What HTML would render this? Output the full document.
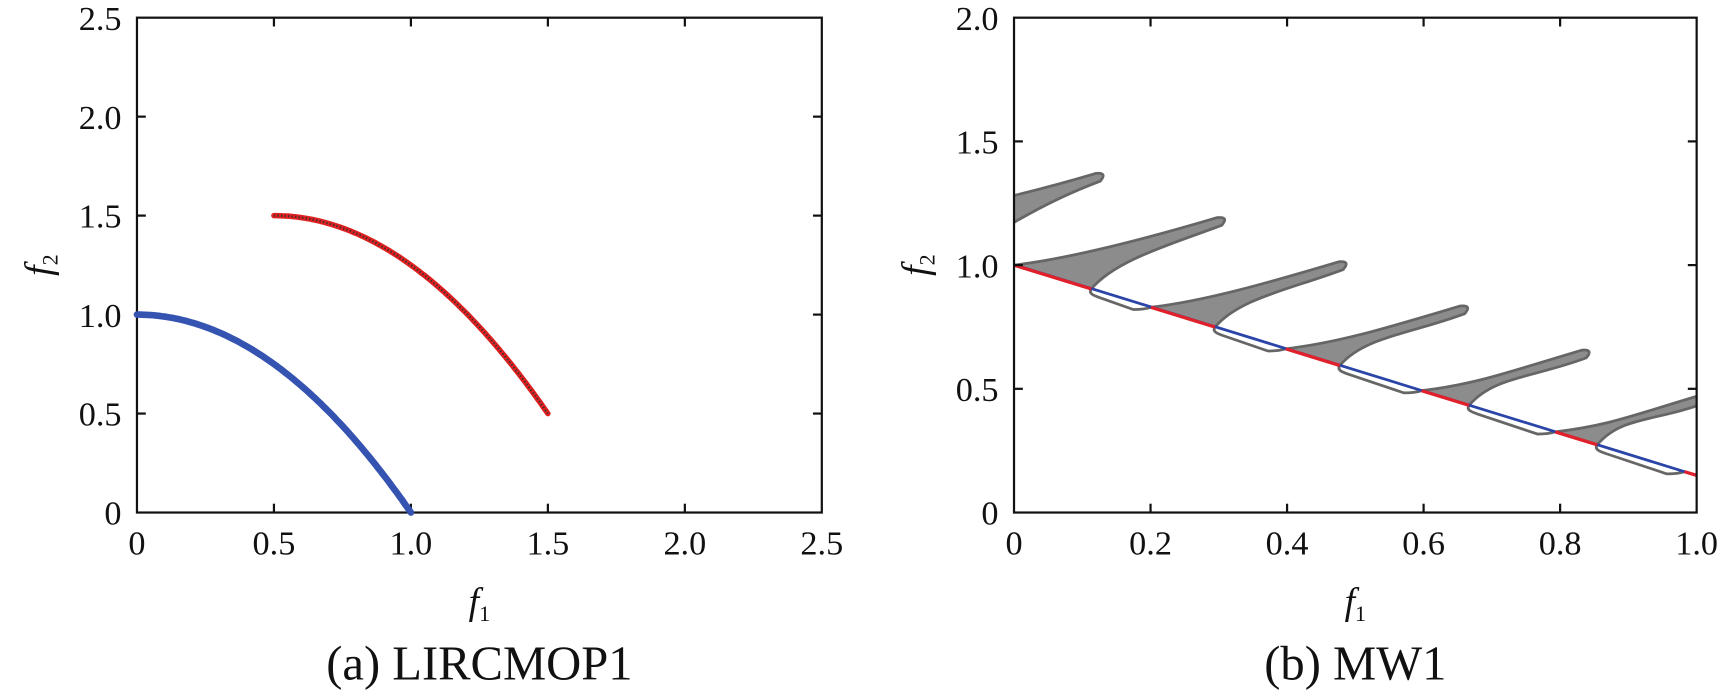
<!DOCTYPE html>
<html><head><meta charset="utf-8"><style>
html,body{margin:0;padding:0;background:#fff;overflow:hidden;}
svg{display:block;}
text{font-family:"Liberation Serif",serif;fill:#111;}
</style></head><body>
<svg width="1732" height="697" viewBox="0 0 1568 631" xmlns="http://www.w3.org/2000/svg">
<defs><clipPath id="cp"><rect x="918" y="16" width="618" height="448"/></clipPath></defs>
<g id="left">
<rect x="124" y="16" width="620" height="448" fill="none" stroke="#111" stroke-width="2"/>
<g stroke="#111" stroke-width="2">
<line x1="248" y1="464" x2="248" y2="456"/><line x1="372" y1="464" x2="372" y2="456"/><line x1="496" y1="464" x2="496" y2="456"/><line x1="620" y1="464" x2="620" y2="456"/>
<line x1="248" y1="16" x2="248" y2="24"/><line x1="372" y1="16" x2="372" y2="24"/><line x1="496" y1="16" x2="496" y2="24"/><line x1="620" y1="16" x2="620" y2="24"/>
<line x1="124" y1="374.4" x2="132" y2="374.4"/><line x1="124" y1="284.8" x2="132" y2="284.8"/><line x1="124" y1="195.2" x2="132" y2="195.2"/><line x1="124" y1="105.6" x2="132" y2="105.6"/>
<line x1="744" y1="374.4" x2="736" y2="374.4"/><line x1="744" y1="284.8" x2="736" y2="284.8"/><line x1="744" y1="195.2" x2="736" y2="195.2"/><line x1="744" y1="105.6" x2="736" y2="105.6"/>
</g>
<g font-size="31" text-anchor="middle">
<text x="124" y="502">0</text><text x="248" y="502">0.5</text><text x="372" y="502">1.0</text><text x="496" y="502">1.5</text><text x="620" y="502">2.0</text><text x="744" y="502">2.5</text>
</g>
<g font-size="31" text-anchor="end">
<text x="110" y="475">0</text><text x="110" y="385">0.5</text><text x="110" y="296">1.0</text><text x="110" y="206">1.5</text><text x="110" y="117">2.0</text><text x="110" y="27">2.5</text>
</g>
<text x="434" y="556" font-size="34" font-style="italic" text-anchor="middle">f<tspan font-size="20" dy="6" font-style="normal">1</tspan></text>
<text transform="translate(46,240) rotate(-90)" font-size="34" font-style="italic" text-anchor="middle">f<tspan font-size="20" dy="6" font-style="normal">2</tspan></text>
<text x="434" y="615" font-size="44" text-anchor="middle">(a) LIRCMOP1</text>
<path id="blue" fill="none" stroke="#3553b0" stroke-width="6" stroke-linecap="round"/>
<path id="red" fill="none" stroke="#e02020" stroke-width="5" stroke-linecap="round"/>
<path id="hatch" fill="none" stroke="#333" stroke-width="2" stroke-dasharray="1.2 2"/>
</g>
<g id="right">
<g clip-path="url(#cp)">
<path id="fins" fill="#8c8c8c" stroke="#666" stroke-width="2.5" stroke-linejoin="round"/>
<path id="loops" fill="none" stroke="#666" stroke-width="2.5"/>
<path d="M918,239.6 L1536,430.4" stroke="#2a44a8" stroke-width="2.5" fill="none"/>
<path id="reds" stroke="#e0202a" stroke-width="3" fill="none"/>
</g>
<rect x="918" y="16" width="618" height="448" fill="none" stroke="#111" stroke-width="2"/>
<g stroke="#111" stroke-width="2">
<line x1="1041.6" y1="464" x2="1041.6" y2="456"/><line x1="1165.2" y1="464" x2="1165.2" y2="456"/><line x1="1288.8" y1="464" x2="1288.8" y2="456"/><line x1="1412.4" y1="464" x2="1412.4" y2="456"/>
<line x1="1041.6" y1="16" x2="1041.6" y2="24"/><line x1="1165.2" y1="16" x2="1165.2" y2="24"/><line x1="1288.8" y1="16" x2="1288.8" y2="24"/><line x1="1412.4" y1="16" x2="1412.4" y2="24"/>
<line x1="918" y1="352" x2="926" y2="352"/><line x1="918" y1="240" x2="926" y2="240"/><line x1="918" y1="128" x2="926" y2="128"/>
<line x1="1536" y1="352" x2="1528" y2="352"/><line x1="1536" y1="240" x2="1528" y2="240"/><line x1="1536" y1="128" x2="1528" y2="128"/>
</g>
<g font-size="31" text-anchor="middle">
<text x="918" y="502">0</text><text x="1041.6" y="502">0.2</text><text x="1165.2" y="502">0.4</text><text x="1288.8" y="502">0.6</text><text x="1412.4" y="502">0.8</text><text x="1536" y="502">1.0</text>
</g>
<g font-size="31" text-anchor="end">
<text x="904" y="475">0</text><text x="904" y="363">0.5</text><text x="904" y="251">1.0</text><text x="904" y="139">1.5</text><text x="904" y="27">2.0</text>
</g>
<text x="1227" y="556" font-size="34" font-style="italic" text-anchor="middle">f<tspan font-size="20" dy="6" font-style="normal">1</tspan></text>
<text transform="translate(840,240) rotate(-90)" font-size="34" font-style="italic" text-anchor="middle">f<tspan font-size="20" dy="6" font-style="normal">2</tspan></text>
<text x="1227" y="615" font-size="44" text-anchor="middle">(b) MW1</text>
</g>
</svg>
<script>
(function(){
function X(f){return 124+248*f;} function Y(f){return 464-179.2*f;}
var b="",r="";
for(var i=0;i<=100;i++){var f=i/100;b+=(i?"L":"M")+X(f).toFixed(1)+","+Y(1-f*f).toFixed(1);}
for(var i=0;i<=100;i++){var t=i/100;r+=(i?"L":"M")+X(0.5+t).toFixed(1)+","+Y(1.5-t*t).toFixed(1);}
document.getElementById("blue").setAttribute("d",b);
document.getElementById("red").setAttribute("d",r);
document.getElementById("hatch").setAttribute("d",r);
function LY(x){var f=(x-918)/618;return 464-224*(1-0.85*f);}
function fin(S,yS,E,yE,tx,ty){
 return "M"+S+","+yS+" C"+(S+50)+","+(yS-6)+" "+(tx-70)+","+(ty+18)+" "+(tx-6)+","+(ty-1)+" Q"+(tx+5)+","+(ty-2)+" "+(tx-2)+","+(ty+6)+" C"+(tx-50)+","+(ty+24)+" "+(E+22)+","+(yE-26)+" "+E+","+yE+" Z ";
}
var fins=[[918,988,1108,198],[1042,1100,1218,238],[1164,1213,1328,278],[1287,1330,1438,318],[1408,1446,1548,358]];
var fd=fin(796,201,866,241,998,158),ld="",rd="";
for(var k=0;k<fins.length;k++){
 var S=fins[k][0],E=fins[k][1],tx=fins[k][2],ty=fins[k][3];
 var yS=LY(S),yE=LY(E);
 fd+=fin(S,yS,E,yE,tx,ty);
 rd+="M"+S+","+yS+" L"+E+","+yE+" ";
 var Sn=(k<fins.length-1)?fins[k+1][0]:1525;var ySn=LY(Sn);
 ld+="M"+E+","+yE+" C"+(E-3)+","+(yE+4)+" "+(E+2)+","+(yE+6)+" "+(E+8)+","+(yE+8)+" L"+(Sn-16)+","+(ySn+2)+" Q"+(Sn-6)+","+(ySn+2)+" "+Sn+","+ySn+" ";
}
rd+="M1525,"+LY(1525)+" L1536,"+LY(1536);
document.getElementById("fins").setAttribute("d",fd);
document.getElementById("loops").setAttribute("d",ld);
document.getElementById("reds").setAttribute("d",rd);
})();
</script>
</body></html>
